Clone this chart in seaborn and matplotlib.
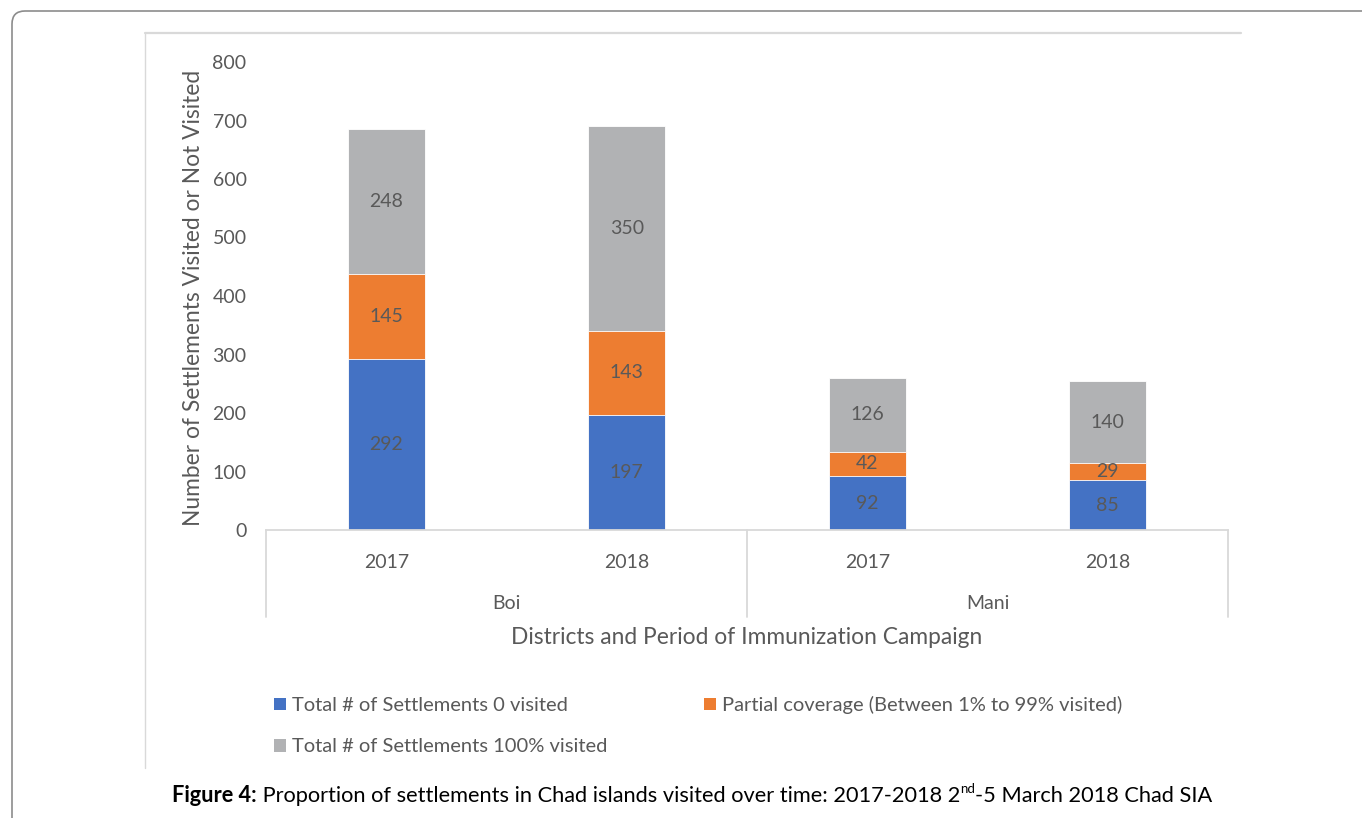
import matplotlib
matplotlib.use("Agg")
import matplotlib.pyplot as plt
from matplotlib.patches import FancyBboxPatch, Patch
from matplotlib.lines import Line2D
import seaborn as sns
import pandas as pd

# Settlement counts per district and campaign year
districts = ["Boi", "Boi", "Mani", "Mani"]
years = ["2017", "2018", "2017", "2018"]
zero_visited = [292, 197, 92, 85]
partial = [145, 143, 42, 29]
full_visited = [248, 350, 126, 140]

series_names = [
    "Total # of Settlements 0 visited",
    "Partial coverage (Between 1% to 99% visited)",
    "Total # of Settlements 100% visited",
]
y_ticks = [0, 100, 200, 300, 400, 500, 600, 700, 800]

BLUE = "#4472c4"
ORANGE = "#ed7d31"
GRAY = "#b1b2b4"
TEXT = "#595959"
AXIS = "#d9d9d9"

sns.set_theme(style="white")
plt.rcParams["font.family"] = ["Lato", "DejaVu Sans"]

df = pd.DataFrame({
    "slot": [f"{d} {y}" for d, y in zip(districts, years)],
    "zero": zero_visited,
    "partial": partial,
    "full": full_visited,
})
df["lower2"] = df["zero"] + df["partial"]
df["total"] = df["lower2"] + df["full"]
order = list(df["slot"])

W, H = 1362, 818
fig = plt.figure(figsize=(W / 100, H / 100), dpi=100)
ax = fig.add_axes([266 / W, 1 - 530 / H, (1228 - 266) / W, (530 - 62) / H])

# stacked bars drawn back to front from cumulative heights
for col, colr in [("total", GRAY), ("lower2", ORANGE), ("zero", BLUE)]:
    sns.barplot(data=df, x="slot", y=col, order=order, color=colr,
                saturation=1, width=0.32, errorbar=None, ax=ax,
                edgecolor="white", linewidth=0.6)

# value labels in the middle of each segment
for i, row in df.iterrows():
    segs = [(0, row["zero"]), (row["zero"], row["partial"]),
            (row["lower2"], row["full"])]
    for base, val in segs:
        ax.text(i, base + val / 2, f"{val}", ha="center", va="center",
                fontsize=14, color=TEXT)

ax.set_xlim(-0.5, 3.5)
ax.set_ylim(0, 800)
ax.set_yticks(y_ticks)
ax.set_yticklabels([str(t) for t in y_ticks])
ax.set_xticks(range(len(years)))
ax.set_xticklabels(years)
ax.set_xlabel("")
ax.set_ylabel("")
ax.tick_params(axis="y", length=0, pad=14, labelsize=14, labelcolor=TEXT)
ax.tick_params(axis="x", length=0, pad=17, labelsize=14, labelcolor=TEXT)
for s in ["top", "right", "left"]:
    ax.spines[s].set_visible(False)
ax.spines["bottom"].set_color(AXIS)
ax.spines["bottom"].set_linewidth(1.3)
ax.grid(False)

# district group labels and separators under the category axis
xt = ax.get_xaxis_transform()
for x in [-0.5, 1.5, 3.5]:
    ax.add_line(Line2D([x, x], [0, -0.186], transform=xt, color=AXIS,
                       lw=1.3, clip_on=False))
for name, center in [("Boi", 0.5), ("Mani", 2.5)]:
    ax.text(center, -0.156, name, transform=xt, ha="center", va="center",
            fontsize=14, color=TEXT)

fig.text(747 / W, 1 - 638 / H, "Districts and Period of Immunization Campaign",
         ha="center", va="center", fontsize=16.4, color=TEXT)
fig.text(193 / W, 1 - 298 / H, "Number of Settlements Visited or Not Visited",
         ha="center", va="center", rotation=90, fontsize=16.4, color=TEXT)

# legend filled column by column: blue / gray on the left, orange on the right
colors = [BLUE, ORANGE, GRAY]
leg_order = [0, 2, 1]
handles = [Patch(facecolor=colors[k], edgecolor="none") for k in leg_order]
labels = [series_names[k] for k in leg_order]
fig.legend(handles, labels, ncol=2, loc="upper left",
           bbox_to_anchor=(274 / W, 1 - 696 / H), frameon=False,
           fontsize=14.5, labelcolor=TEXT, handlelength=0.6,
           handleheight=0.6, handletextpad=0.3, columnspacing=4.8,
           labelspacing=1.2, borderaxespad=0, borderpad=0)

# page frames around the chart
inch = fig.dpi_scale_trans
fig.patches.append(FancyBboxPatch((0.12, -1.0), 16, 8.07 + 1.0,
                                  boxstyle="round,pad=0,rounding_size=0.13",
                                  transform=inch, fill=False,
                                  edgecolor="#8c8c8c", lw=1.2))
fig.add_artist(Line2D([1.45, 12.41], [7.85, 7.85], transform=inch,
                      color=AXIS, lw=1.6))
fig.add_artist(Line2D([1.45, 1.45], [7.85, 0.50], transform=inch,
                      color=AXIS, lw=1.0))

# caption with bold lead-in and a superscript ordinal
renderer = fig.canvas.get_renderer()
cap_y = 1 - 796 / H
pieces = [
    ("Figure 4:", dict(fontsize=15.7, fontweight="bold"), 0),
    (" Proportion of settlements in Chad islands visited over time: 2017-2018 2",
     dict(fontsize=15.7), 0),
    ("nd", dict(fontsize=9.5), 7 / H),
    ("-5 March 2018 Chad SIA", dict(fontsize=15.7), 0),
]
texts = []
for s, kw, dy in pieces:
    t = fig.text(0, cap_y + dy, s, ha="left", va="center", color="black", **kw)
    texts.append(t)
widths = [t.get_window_extent(renderer).width for t in texts]
x = (692 - sum(widths) / 2)
for t, w in zip(texts, widths):
    t.set_x(x / W)
    x += w

fig.savefig("out.png", dpi=100, facecolor="white")
